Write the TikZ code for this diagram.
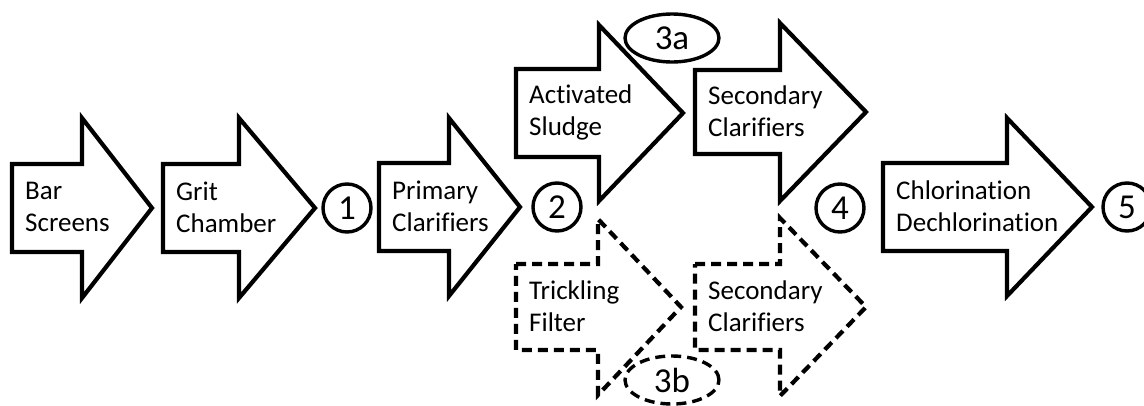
\documentclass[tikz,border=0pt]{standalone}
\usepackage{fontspec}
\setmainfont[Ligatures=NoCommon]{Carlito}
\tikzset{
  x=1pt, y=-1pt,
  stageline/.style={line width=4.2pt, line join=miter, draw=black, fill=white},
  dashline/.style={stageline, dash pattern=on 10pt off 6pt},
  lbl/.style={font=\fontsize{27}{32}\selectfont, align=left, inner sep=0pt, anchor=west},
  marker/.style={circle, draw=black, line width=3.4pt, minimum size=48pt, inner sep=0pt, font=\fontsize{35}{35}\selectfont},
  oval/.style={ellipse, draw=black, line width=3.4pt, minimum width=94pt, minimum height=48pt, inner sep=0pt, font=\fontsize{35}{35}\selectfont},
}
\usetikzlibrary{shapes.geometric}
% #1 style, #2 name, #3 left x, #4 centre y, #5 head base x, #6 tip x, #7 shaft half, #8 head half, #9 text
\newcommand{\stagearrow}[9]{%
  \draw[#1] (#3,{#4-#7}) -- (#5,{#4-#7}) -- (#5,{#4-#8}) -- (#6,#4) -- (#5,{#4+#8}) -- (#5,{#4+#7}) -- (#3,{#4+#7}) -- cycle;
  \node[lbl] (#2) at ({#3+13},{#4-1}) {#9};
}
\begin{document}
\begin{tikzpicture}
\useasboundingbox (0,0) rectangle (1144,405);
\clip (0,0) rectangle (1144,405);
\stagearrow{stageline}{bar}{12}{208}{82}{152}{44}{90}{Bar\\Screens}
\stagearrow{stageline}{grit}{163}{208}{239}{315}{44}{90}{Grit\\Chamber}
\stagearrow{stageline}{prim}{379}{207}{449}{520}{44}{89}{Primary\\Clarifiers}
\stagearrow{stageline}{act}{516}{113}{599}{683}{44}{88}{Activated\\Sludge}
\stagearrow{stageline}{sec1}{695}{112}{780}{866}{42}{89}{Secondary\\Clarifiers}
\stagearrow{dashline}{trick}{516}{307}{598}{681}{43}{88}{Trickling\\Filter}
\stagearrow{dashline}{sec2}{695}{307}{780}{866}{43}{89}{Secondary\\Clarifiers}
\stagearrow{stageline}{chl}{883}{207}{1007}{1092}{44}{89}{Chlorination\\Dechlorination}
\node[marker] (m1) at (347,208) {1};
\node[marker] (m2) at (557,207) {2};
\node[marker] (m4) at (840,208) {4};
\node[marker] (m5) at (1127,207) {5};
\node[oval] (m3a) at (672,38) {3a};
\node[oval, dash pattern=on 10pt off 6pt] (m3b) at (672,380) {3b};
\end{tikzpicture}
\end{document}
